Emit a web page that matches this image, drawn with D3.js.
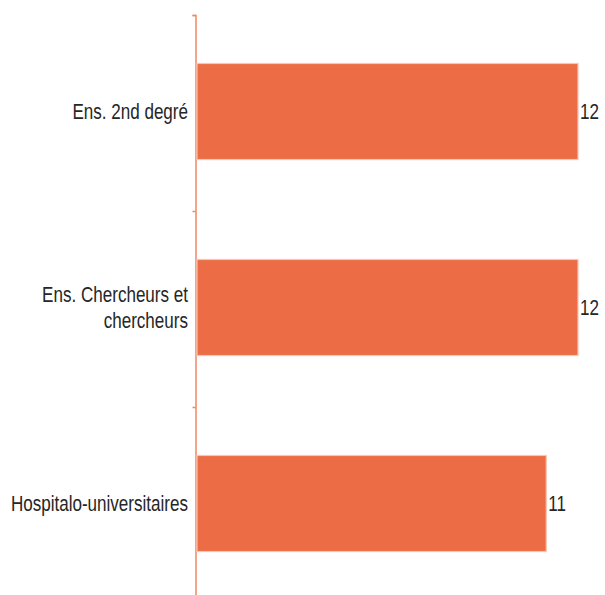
<!DOCTYPE html>
<html>
<head>
<meta charset="utf-8">
<script src="https://cdn.jsdelivr.net/npm/d3@7"></script>
<style>
  html, body { margin: 0; padding: 0; background: #fff; }
  svg { display: block; }
  text { font-family: "Liberation Sans", Arial, sans-serif; fill: #262626; }
</style>
</head>
<body>
<svg id="chart" width="605" height="595"></svg>
<script>
const categories = ["Ens. 2nd degré", "Ens. Chercheurs et chercheurs", "Hospitalo-universitaires"];
const labelLines = [["Ens. 2nd degré"], ["Ens. Chercheurs et", "chercheurs"], ["Hospitalo-universitaires"]];
const values = [12, 12, 11];
const xMax = 12;

const svg = d3.select("#chart");
const x0 = 197, x1 = 578;
const yTop = 15, yBottom = 603;
const barColor = "#ec6c45";
const axisColor = "#f08766";
const fontSize = 22;
const squeeze = 0.775;

const x = d3.scaleLinear().domain([0, xMax]).range([x0, x1]);
const y = d3.scaleBand().domain(categories).range([yTop - 1.5, yBottom - 1.5])
  .paddingInner(0.51).paddingOuter(0.255);

// axis with ticks at the band boundaries
const yB = d3.scaleLinear().domain([0, categories.length]).range([yTop, yBottom]);
const axis = d3.axisLeft(yB).tickValues(d3.range(categories.length + 1))
  .tickSize(3).tickSizeOuter(3).tickFormat("");
const ag = svg.append("g").attr("transform", "translate(195.5,0)").call(axis);
ag.selectAll("path, line").attr("stroke", axisColor).attr("stroke-width", 1.5);

// bars
svg.selectAll("rect.bar").data(categories).join("rect")
  .attr("class", "bar")
  .attr("x", x(0))
  .attr("y", d => y(d))
  .attr("width", (d, i) => x(values[i]) - x(0))
  .attr("height", y.bandwidth())
  .attr("fill", barColor)
  .attr("stroke", "#f9c4b2")
  .attr("stroke-width", 1.2);

// value labels
svg.selectAll("g.val").data(categories).join("g")
  .attr("class", "val")
  .attr("transform", (d, i) => `translate(${x(values[i]) + 2},${y(d) + y.bandwidth() / 2}) scale(${squeeze},1)`)
  .append("text")
  .attr("dy", "0.36em")
  .style("font-size", fontSize + "px")
  .text((d, i) => values[i]);

// category labels
const lg = svg.selectAll("g.lab").data(categories).join("g")
  .attr("class", "lab")
  .attr("transform", d => `translate(188,${y(d) + y.bandwidth() / 2}) scale(${squeeze},1)`);
lg.each(function(d, i) {
  const lines = labelLines[i];
  const lh = 26;
  const t = d3.select(this).append("text")
    .attr("text-anchor", "end")
    .style("font-size", fontSize + "px");
  lines.forEach((ln, j) => {
    t.append("tspan").attr("x", 0)
      .attr("y", (j - (lines.length - 1) / 2) * lh)
      .attr("dy", "0.36em")
      .text(ln);
  });
});
</script>
</body>
</html>
